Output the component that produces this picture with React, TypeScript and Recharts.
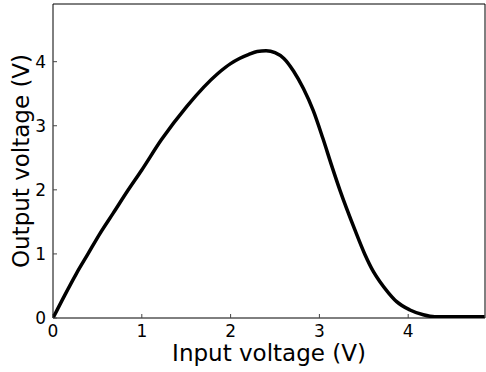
import React from "react";
import { LineChart, Line, XAxis, YAxis } from "recharts";

const inputVoltage = [0, 0.13, 0.262, 0.394, 0.525, 0.68, 0.848, 1.0, 1.22, 1.505, 1.86, 2.0, 2.1, 2.2, 2.3, 2.4, 2.5, 2.6, 2.71, 2.82, 2.93, 3.04, 3.14, 3.23, 3.4, 3.51, 3.61, 3.68, 3.78, 3.87, 4.02, 4.17, 4.3, 4.5, 4.7, 4.86];
const outputVoltage = [0, 0.35, 0.69, 1.0, 1.31, 1.64, 2.0, 2.31, 2.78, 3.3, 3.82, 3.97, 4.05, 4.11, 4.16, 4.17, 4.14, 4.05, 3.85, 3.58, 3.24, 2.8, 2.37, 2.0, 1.375, 1.0, 0.72, 0.57, 0.39, 0.255, 0.125, 0.05, 0.02, 0.02, 0.02, 0.02];
const xTicks = [0, 1, 2, 3, 4];
const yTicks = [0, 1, 2, 3, 4];
const xDomain = [0, 4.865];
const yDomain = [0, 4.9];

const data = inputVoltage.map((x, i) => ({ x, y: outputVoltage[i] }));

const FONT = "DejaVu Sans";

const XLabel = (props: any) => {
  const vb = props.viewBox;
  return (
    <text x={vb.x + vb.width / 2} y={vb.y + 43} textAnchor="middle" fontSize={23} fontFamily={FONT} fill="#000">
      Input voltage (V)
    </text>
  );
};

const YLabel = (props: any) => {
  const vb = props.viewBox;
  const cx = vb.x + 29;
  const cy = vb.y + vb.height / 2;
  return (
    <text x={cx} y={cy} textAnchor="middle" fontSize={23} fontFamily={FONT} fill="#000" transform={`rotate(-90 ${cx} ${cy})`}>
      Output voltage (V)
    </text>
  );
};

export default function App() {
  const tickStyle = { fontSize: 17, fontFamily: FONT, fill: "#000" };
  const axisLine = { stroke: "#000", strokeWidth: 1 };
  const tickLine = { stroke: "#444", strokeWidth: 1 };
  return (
    <div style={{ position: "absolute", left: 0, top: 0 }}>
      <LineChart width={486} height={372} data={data} margin={{ top: 3, right: 0, left: 0, bottom: 0 }}>
        <XAxis
          xAxisId="b"
          dataKey="x"
          type="number"
          domain={xDomain}
          ticks={xTicks}
          allowDataOverflow
          height={54}
          tickSize={-4}
          tickMargin={11}
          tick={tickStyle}
          axisLine={axisLine}
          tickLine={tickLine}
          label={<XLabel />}
        />
        <XAxis
          xAxisId="t"
          orientation="top"
          dataKey="x"
          type="number"
          domain={xDomain}
          ticks={xTicks}
          allowDataOverflow
          height={1}
          tickSize={-4}
          tickMargin={0}
          tick={false}
          axisLine={axisLine}
          tickLine={tickLine}
        />
        <YAxis
          yAxisId="l"
          type="number"
          domain={yDomain}
          ticks={yTicks}
          allowDataOverflow
          width={53}
          tickSize={-4}
          tickMargin={11}
          tick={tickStyle}
          axisLine={axisLine}
          tickLine={tickLine}
          label={<YLabel />}
        />
        <YAxis
          yAxisId="r"
          orientation="right"
          type="number"
          domain={yDomain}
          ticks={yTicks}
          allowDataOverflow
          width={1}
          tickSize={-4}
          tickMargin={0}
          tick={false}
          axisLine={axisLine}
          tickLine={tickLine}
        />
        <Line
          xAxisId="t"
          yAxisId="r"
          dataKey="y"
          type="monotone"
          stroke="none"
          strokeWidth={0}
          dot={false}
          activeDot={false}
          isAnimationActive={false}
        />
        <Line
          xAxisId="b"
          yAxisId="l"
          dataKey="y"
          type="monotone"
          stroke="#000"
          strokeWidth={3.5}
          dot={false}
          isAnimationActive={false}
        />
      </LineChart>
    </div>
  );
}
